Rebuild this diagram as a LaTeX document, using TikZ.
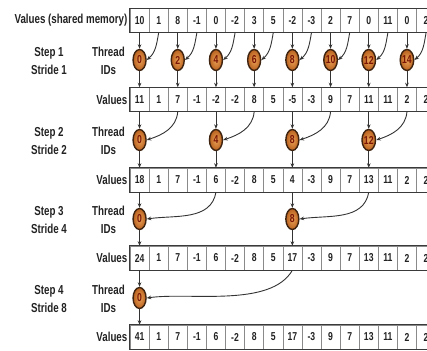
\documentclass[tikz,border=0pt]{standalone}
\usepackage{fontspec}
\usetikzlibrary{shapes.geometric,arrows.meta,calc}
\newfontfamily\lblfont[FakeStretch=0.75]{Liberation Sans}
\definecolor{txt}{HTML}{222222}
\definecolor{frame}{HTML}{3A3A3A}
\definecolor{sep}{HTML}{8A8A8A}
\definecolor{tidin}{HTML}{EBA257}
\definecolor{tidout}{HTML}{B8601E}
\definecolor{tidline}{HTML}{3E2410}
\definecolor{tidtxt}{HTML}{7A1505}
\definecolor{wire}{HTML}{333333}
\tikzset{
  lbl/.style={text=txt, inner sep=0pt, font=\lblfont\bfseries\fontsize{13}{18}\selectfont},
  cell/.style={draw=sep, line width=0.5pt, minimum width=19.1pt, minimum height=24pt,
    inner sep=0pt, text=txt, font=\lblfont\bfseries\fontsize{11.5}{12}\selectfont},
  rowframe/.style={draw=frame, line width=1.1pt},
  tid/.style={ellipse, draw=tidline, line width=1.4pt, inner color=tidin, outer color=tidout,
    minimum width=13pt, minimum height=21pt, inner sep=0pt, text=tidtxt,
    font=\lblfont\bfseries\fontsize{11.5}{12}\selectfont},
  arr/.style={draw=wire, line width=0.9pt, -{Stealth[length=4.5pt,width=3.6pt]}},
}
\begin{document}
\begin{tikzpicture}[x=1pt,y=-1pt]
\useasboundingbox (0,0) rectangle (427,350);
\clip (0,0) rectangle (427,350);

% memory rows: name / centre y / contents
\foreach \r/\ry/\vals in {
  1/20.5/{10,1,8,-1,0,-2,3,5,-2,-3,2,7,0,11,0,2},
  2/99.5/{11,1,7,-1,-2,-2,8,5,-5,-3,9,7,11,11,2,2},
  3/180/{18,1,7,-1,6,-2,8,5,4,-3,9,7,13,11,2,2},
  4/258/{24,1,7,-1,6,-2,8,5,17,-3,9,7,13,11,2,2},
  5/337/{41,1,7,-1,6,-2,8,5,17,-3,9,7,13,11,2,2}} {
  \foreach \v [count=\i from 0] in \vals
    \node[cell] (r\r c\i) at ({130+(\i+0.5)*19.1}, \ry) {\v};
  \draw[rowframe] (r\r c0.north west) rectangle (r\r c15.south east);
}

% row labels
\node[lbl, anchor=east] (v1) at (127.5, 20.5) {Values (shared memory)};
\foreach \r/\ry in {2/99.5, 3/180, 4/258, 5/337}
  \node[lbl, anchor=east] (v\r) at (127.5, \ry) {Values};

% reduction steps: step / stride / centre y / incoming curve angles / looseness / threads
\foreach \s/\str/\ty/\ao/\ai/\lo/\tl in {
  1/1/60/-100/40/1/{0,2,4,6,8,10,12,14},
  2/2/140/-95/18/1/{0,4,8,12},
  3/4/219/-100/8/1/{0,8},
  4/8/298/-120/8/0.75/{0}} {
  \node[lbl, align=center] (st\s) at (49, \ty+1) {Step \s\\Stride \str};
  \node[lbl, align=center] (th\s) at (108.5, \ty+1) {Thread\\IDs};
  \pgfmathtruncatemacro{\nxt}{\s+1}
  \foreach \t in \tl {
    \pgfmathtruncatemacro{\p}{\t+\str}
    \node[tid] (s\s t\t) at ({130+(\t+0.5)*19.1}, \ty) {\t};
    \draw[arr] (r\s c\t.south) -- (s\s t\t.north);
    \draw[arr] (r\s c\p.south) to[out=\ao, in=\ai, looseness=\lo] (s\s t\t.east);
    \draw[arr] (s\s t\t.south) -- (r\nxt c\t.north);
  }
}
\end{tikzpicture}
\end{document}
